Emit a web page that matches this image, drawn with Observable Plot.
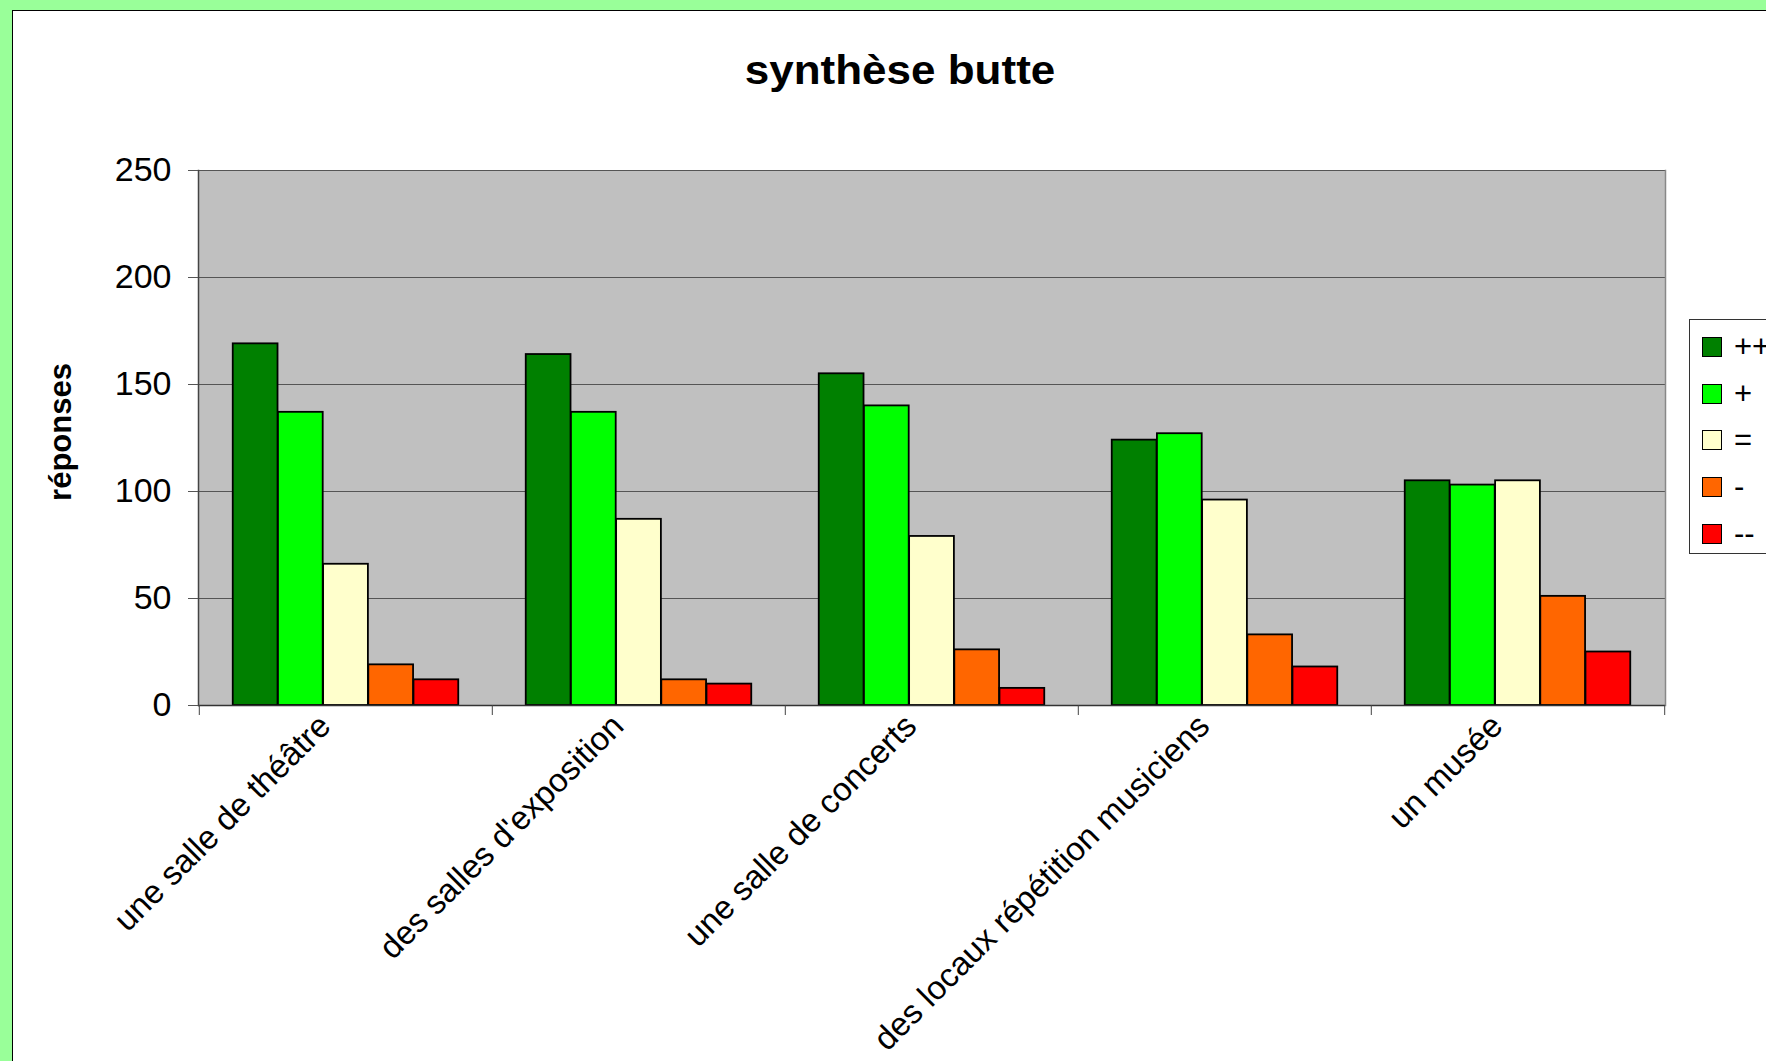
<!DOCTYPE html>
<html>
<head>
<meta charset="utf-8">
<script src="https://cdn.jsdelivr.net/npm/d3@7"></script>
<script src="https://cdn.jsdelivr.net/npm/@observablehq/plot@0.6"></script>
<style>
  html, body { margin: 0; padding: 0; width: 1766px; height: 1061px; overflow: hidden; background: #99ff99; font-family: "Liberation Sans", Arial, sans-serif; }
  #panel { position: absolute; left: 12px; top: 10px; width: 1800px; height: 1100px; background: #fff; border: 1px solid #000; }
  #chart { position: absolute; left: 0; top: 0; }
  #title { position: absolute; left: 900px; top: 46px; font-size: 40px; line-height: 48px; font-weight: bold; white-space: nowrap; transform: translateX(-50%) scaleX(1.1); }
  #legend { position: absolute; left: 1689px; top: 319px; width: 140px; height: 233px; border: 1px solid #333; background: #fff; }
  .item { position: absolute; left: 12px; height: 30px; display: flex; align-items: center; font-size: 31px; }
  .sw { width: 18px; height: 18px; border: 1.5px solid #000; margin-right: 12px; }
</style>
</head>
<body>
<div id="panel"></div>
<div id="chart"></div>
<div id="title">synthèse butte</div>
<div id="legend"></div>
<script>
// Data
const categories = ["une salle de théâtre", "des salles d'exposition", "une salle de concerts", "des locaux répétition musiciens", "un musée"];
const seriesNames = ["++", "+", "=", "-", "--"];
const seriesColors = ["#008000", "#00ff00", "#ffffcc", "#ff6600", "#ff0000"];
const valuesPP = [169, 164, 155, 124, 105];
const valuesP  = [137, 137, 140, 127, 103];
const valuesEq = [66, 87, 79, 96, 105];
const valuesM  = [19, 12, 26, 33, 51];
const valuesMM = [12, 10, 8, 18, 25];
const yTicks = [0, 50, 100, 150, 200, 250];

const seriesValues = [valuesPP, valuesP, valuesEq, valuesM, valuesMM];

// Layout
const W = 1766, H = 1061;
const mL = 198, mR = 101, mT = 170, mB = 356;
const bw = (W - mL - mR) / categories.length;
const pad = bw * 0.115;
const barW = (bw - 2 * pad) / seriesNames.length;

const barMarks = seriesValues.map((vals, k) =>
  Plot.barY(categories.map((c, i) => ({cat: c, value: vals[i]})), {
    x: "cat", y: "value",
    fill: seriesColors[k], stroke: "#000", strokeWidth: 1.8,
    insetLeft: pad + k * barW,
    insetRight: bw - pad - (k + 1) * barW
  })
);

const chart = Plot.plot({
  width: W, height: H,
  marginLeft: mL, marginRight: mR, marginTop: mT, marginBottom: mB,
  style: {fontFamily: "'Liberation Sans', Arial, sans-serif", background: "transparent", overflow: "visible"},
  x: {domain: categories, padding: 0, axis: null},
  y: {domain: [0, 250], axis: null},
  marks: [
    Plot.frame({fill: "#c0c0c0"}),
    Plot.gridY(yTicks.slice(1), {stroke: "#555", strokeOpacity: 1, strokeWidth: 1.2}),
    Plot.frame({anchor: "right", stroke: "#888", strokeWidth: 1.5}),
    ...barMarks,
    Plot.ruleY([0], {stroke: "#333", strokeWidth: 1.5}),
    Plot.frame({anchor: "left", stroke: "#444", strokeWidth: 1.5}),
    Plot.axisY({ticks: yTicks, tickSize: 10, tickPadding: 17, fontSize: 34, stroke: "#555", color: "#000", label: null}),
    Plot.ruleX(categories, {x: d => d, dx: -bw / 2, y1: 0, y2: 0, insetBottom: -10, stroke: "#444"}),
    Plot.ruleX([categories[categories.length - 1]], {x: d => d, dx: bw / 2, y1: 0, y2: 0, insetBottom: -10, stroke: "#444"}),
    Plot.axisX({tickSize: 0, tickRotate: -45, tickPadding: 15, dx: -21, fontSize: 33, label: null}),
    Plot.text(["réponses"], {frameAnchor: "left", textAnchor: "middle", rotate: -90, dx: -137, dy: -6, fontWeight: "bold", fontSize: 31, fill: "#000"})
  ]
});
document.getElementById("chart").appendChild(chart);

// Legend
const legend = document.getElementById("legend");
seriesNames.forEach((name, k) => {
  const it = document.createElement("div");
  it.className = "item";
  it.style.top = (12 + k * 46.7) + "px";
  it.innerHTML = `<div class="sw" style="background:${seriesColors[k]}"></div><span>${name}</span>`;
  legend.appendChild(it);
});
</script>
</body>
</html>
